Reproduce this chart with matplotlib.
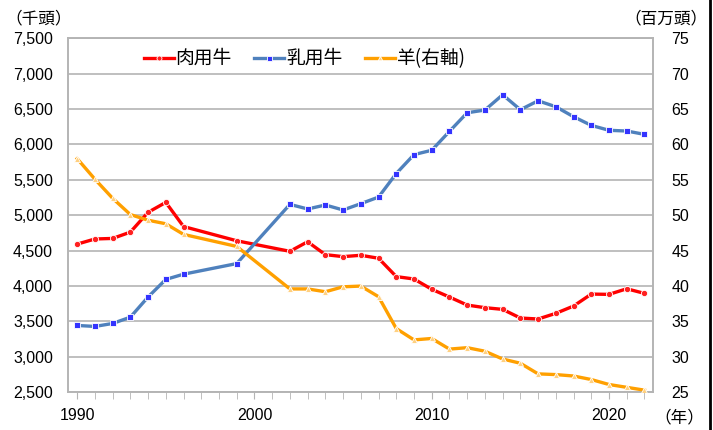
import matplotlib
matplotlib.use("Agg")
import matplotlib.pyplot as plt
from matplotlib.lines import Line2D

plt.rcParams['font.family'] = ['Liberation Sans', 'Noto Sans CJK JP']

# beef / dairy cattle (thousand head), sheep (million head, right axis)
beef_years = [1990, 1991, 1992, 1993, 1994, 1995, 1996, 1999, 2002, 2003, 2004,
              2005, 2006, 2007, 2008, 2009, 2010, 2011, 2012, 2013, 2014, 2015,
              2016, 2017, 2018, 2019, 2020, 2021, 2022]
beef = [4593, 4665, 4673, 4762, 5042, 5182, 4841, 4640, 4491, 4626, 4444,
        4416, 4435, 4393, 4134, 4100, 3955, 3845, 3732, 3695, 3671, 3549,
        3535, 3615, 3718, 3887, 3883, 3962, 3897]
dairy = [3444, 3430, 3472, 3561, 3846, 4094, 4168, 4318, 5154, 5089, 5145,
         5075, 5164, 5257, 5590, 5857, 5918, 6185, 6448, 6486, 6702, 6491,
         6617, 6533, 6392, 6270, 6200, 6190, 6143]
sheep = [58.0, 55.1, 52.4, 50.1, 49.3, 48.8, 47.3, 45.6, 39.6, 39.6, 39.2,
         39.9, 40.0, 38.5, 34.0, 32.4, 32.6, 31.1, 31.3, 30.8, 29.7, 29.1,
         27.6, 27.5, 27.3, 26.8, 26.1, 25.7, 25.3]

left_ticks = [2500, 3000, 3500, 4000, 4500, 5000, 5500, 6000, 6500, 7000, 7500]
right_ticks = [25, 30, 35, 40, 45, 50, 55, 60, 65, 70, 75]
year_labels = [1990, 2000, 2010, 2020]

fig = plt.figure(figsize=(7.13, 4.30), dpi=100)
ax = fig.add_axes([0.0958, 0.0877, 0.8205, 0.8233])
ax2 = ax.twinx()

grid_c = '#b4b4b4'
l1, = ax.plot(beef_years, beef, color='#ff0000', lw=2.4, marker='o', ms=4.5,
              mfc='#ff2020', mec='white', mew=0.6, label='肉用牛', zorder=3)
l2, = ax.plot(beef_years, dairy, color='#4f81bd', lw=2.4, marker='s', ms=4.5,
              mfc='#3333ff', mec='white', mew=0.6, label='乳用牛', zorder=3)
l3, = ax2.plot(beef_years, sheep, color='#ffa000', lw=2.4, marker='^', ms=4,
               mfc='#ffd080', mec='white', mew=0.6, label='羊(右軸)', zorder=3)

ax.set_xlim(1989.5, 2022.5)
ax.set_ylim(2500, 7500)
ax2.set_ylim(25, 75)
ax.set_yticks(left_ticks)
ax.set_yticklabels([f"{v:,}" for v in left_ticks], fontsize=11.5)
ax2.set_yticks(right_ticks)
ax2.set_yticklabels([str(v) for v in right_ticks], fontsize=11.5)
ax.set_xticks(year_labels)
ax.set_xticklabels([str(v) for v in year_labels], fontsize=11.5)
ax.set_xticks(range(1990, 2023), minor=True)

ax.grid(axis='y', color=grid_c, lw=1.2)
ax.set_axisbelow(True)
for a in (ax, ax2):
    for s in a.spines.values():
        s.set_color(grid_c)
        s.set_linewidth(1.2)
ax.tick_params(axis='y', length=0, pad=11)
ax2.tick_params(axis='y', length=0, pad=13)
ax.tick_params(axis='x', which='both', length=5, color=grid_c, pad=6)

ax.legend(handles=[l1, l2, l3], loc='upper left', bbox_to_anchor=(0.1, 1.02),
          ncol=3, frameon=False, handlelength=1.6, handletextpad=0.1,
          columnspacing=1.2, markerscale=0.8,
          prop={'family': ['Noto Sans CJK JP'], 'size': 13.5})

cjk = ['Noto Sans CJK JP']
fig.text(0.008, 0.955, '（千頭）', fontsize=12, family=cjk, va='center')
fig.text(0.992, 0.955, '（百万頭）', fontsize=12, family=cjk, va='center', ha='right')
fig.text(0.988, 0.027, '（年）', fontsize=12, family=cjk, va='center', ha='right')

fig.add_artist(Line2D([0.996, 0.996], [0, 1], color='black', lw=2,
                      transform=fig.transFigure))

fig.savefig('out.png', dpi=100)
